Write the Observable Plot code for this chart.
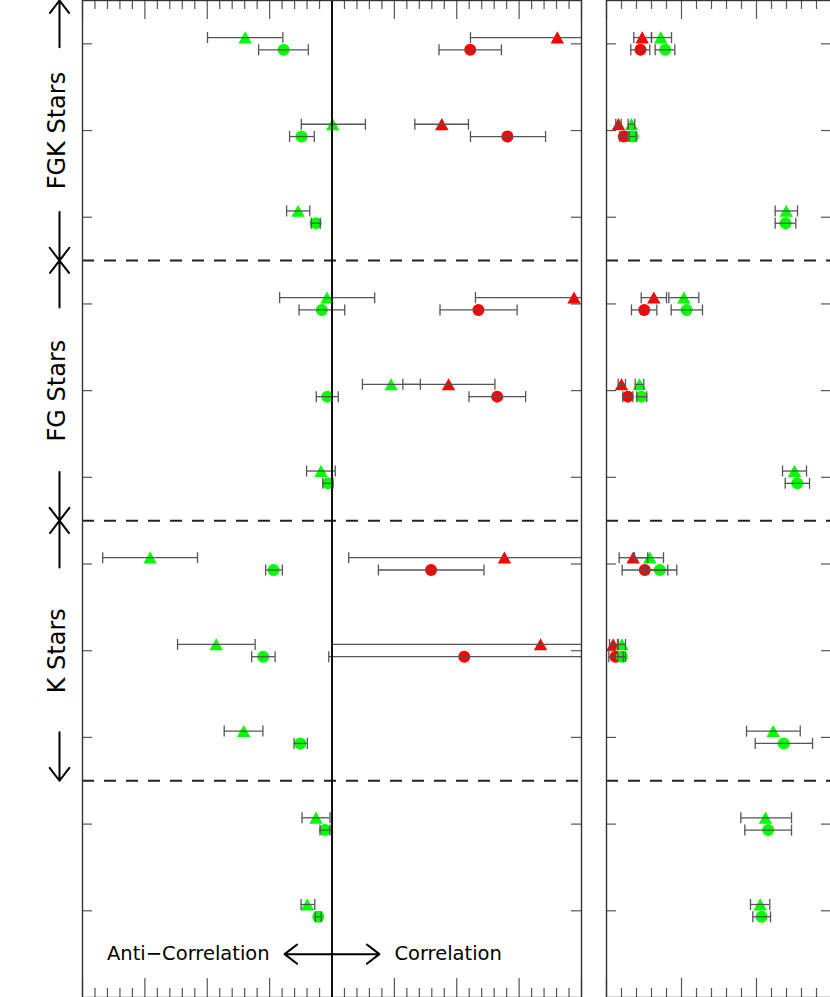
<!DOCTYPE html>
<html><head><meta charset="utf-8">
<script src="https://cdn.jsdelivr.net/npm/d3@7"></script>
<script src="https://cdn.jsdelivr.net/npm/@observablehq/plot@0.6"></script>
<style>
html,body{margin:0;padding:0;background:#fff;}
#wrap{position:relative;width:830px;height:997px;overflow:hidden;background:#fff;}
#left,#right{position:absolute;top:0;}
#left{left:0;width:600px;} #right{left:590px;width:260px;}
#wrap svg{max-width:none !important;display:block;}
svg{font-family:"DejaVu Sans",sans-serif;}
</style></head><body><div id="wrap"><div id="left"></div><div id="right"></div></div>
<script>
// ---------- data ----------
const rows = [0, 1, 2, 3, 4, 5, 6, 7, 8, 9, 10];
const groupLabels = ["FGK Stars", "FG Stars", "K Stars"];
const groupFirstRow = [0, 3, 6];
const groupLastRow = [2, 5, 8];
const bottomLabels = ["Anti\u2212Correlation", "Correlation"];

// each entry: [value, low, high] for a row; null = no point in that row
const leftGreenTriangle = [
  [-0.348, -0.499, -0.197], [0.003, -0.123, 0.134], [-0.136, -0.182, -0.089],
  [-0.020, -0.210, 0.171], [0.237, 0.122, 0.354], [-0.044, -0.102, 0.013],
  [-0.729, -0.919, -0.539], [-0.464, -0.619, -0.308], [-0.354, -0.432, -0.277],
  [-0.064, -0.120, -0.008], [-0.099, -0.124, -0.069]];
const leftGreenCircle = [
  [-0.194, -0.294, -0.095], [-0.122, -0.170, -0.071], [-0.065, -0.083, -0.047],
  [-0.041, -0.132, 0.051], [-0.019, -0.063, 0.025], [-0.016, -0.037, 0.004],
  [-0.234, -0.266, -0.199], [-0.276, -0.322, -0.228], [-0.127, -0.152, -0.099],
  [-0.028, -0.048, -0.008], [-0.055, -0.067, -0.043]];
const leftRedTriangle = [
  [0.903, 0.555, 1.251], [0.440, 0.332, 0.547], null,
  [0.970, 0.575, 1.364], [0.467, 0.284, 0.653], null,
  [0.691, 0.067, 1.316], [0.836, 0.000, 1.672], null, null, null];
const leftRedCircle = [
  [0.554, 0.429, 0.679], [0.703, 0.555, 0.856], null,
  [0.587, 0.433, 0.742], [0.662, 0.549, 0.776], null,
  [0.397, 0.186, 0.609], [0.530, -0.013, 1.070], null, null, null];

const rightRedTriangle = [
  [0.476, 0.364, 0.600], [0.160, 0.124, 0.196], null,
  [0.631, 0.463, 0.800], [0.200, 0.156, 0.253], null,
  [0.356, 0.169, 0.550], [0.089, 0.040, 0.147], null, null, null];
const rightRedCircle = [
  [0.453, 0.324, 0.577], [0.231, 0.177, 0.284], null,
  [0.503, 0.333, 0.671], [0.284, 0.217, 0.351], null,
  [0.511, 0.209, 0.817], [0.120, 0.031, 0.223], null, null, null];
const rightGreenTriangle = [
  [0.724, 0.600, 0.867], [0.333, 0.289, 0.377], [2.396, 2.249, 2.547],
  [1.031, 0.831, 1.231], [0.440, 0.383, 0.497], [2.507, 2.347, 2.667],
  [0.577, 0.373, 0.760], [0.204, 0.156, 0.253], [2.223, 1.867, 2.583],
  [2.120, 1.791, 2.467], [2.049, 1.920, 2.177]];
const rightGreenCircle = [
  [0.783, 0.649, 0.911], [0.351, 0.303, 0.396], [2.387, 2.249, 2.524],
  [1.067, 0.863, 1.280], [0.467, 0.404, 0.537], [2.543, 2.383, 2.707],
  [0.711, 0.507, 0.937], [0.204, 0.151, 0.253], [2.364, 1.983, 2.747],
  [2.156, 1.844, 2.467], [2.067, 1.951, 2.187]];

const leftDomain = [-1, 1];
const rightDomain = [0, 3];

// ---------- helpers ----------
const GREEN = "#00ff00", RED = "#ff0000", BAR = "#555";
const H = 997;

const triSymbol = {draw(ctx, size) {
  const r = Math.sqrt(size / Math.PI);
  ctx.moveTo(0, -r); ctx.lineTo(r * 1.08, r * 0.95); ctx.lineTo(-r * 1.08, r * 0.95); ctx.closePath();
}};
const capSymbol = {draw(ctx, size) {
  const r = Math.sqrt(size / Math.PI);
  ctx.moveTo(0, -r); ctx.lineTo(0, r);
}};

function records(arr, color) {
  return arr.map((d, i) => d && {row: rows[i], v: d[0], lo: d[1], hi: d[2], color}).filter(Boolean);
}

const groups = groupLabels.map((label, i) => ({label, first: groupFirstRow[i], last: groupLastRow[i]}));
const separators = groups.map(g => g.last + 0.5);

function tickMarks(domain, minorStep, majorEvery, fw) {
  const n = Math.round((domain[1] - domain[0]) / minorStep);
  const all = d3.range(n + 1).map(i => +(domain[0] + i * minorStep).toFixed(6));
  const major = all.filter((d, i) => i % majorEvery === 0);
  const minor = all.filter((d, i) => i % majorEvery !== 0);
  const st = {stroke: "#555", strokeWidth: 1.2};
  return [
    Plot.ruleX(minor, {...st, insetBottom: H - 9}),
    Plot.ruleX(minor, {...st, insetTop: H - 9}),
    Plot.ruleX(major, {...st, insetBottom: H - 19}),
    Plot.ruleX(major, {...st, insetTop: H - 19}),
    Plot.ruleY(rows, {...st, insetRight: fw - 10}),
    Plot.ruleY(rows, {...st, insetLeft: fw - 10})
  ];
}

function pointMarks(tri, circ) {
  const dyT = -6.3, dyC = 6;
  const bars = (data, dy) => [
    Plot.ruleY(data, {y: "row", x1: "lo", x2: "hi", dy, stroke: BAR, strokeWidth: 1.3, clip: true}),
    Plot.dot(data, {x: "lo", y: "row", dy, symbol: capSymbol, r: 5.5, stroke: BAR, strokeWidth: 1.3, fill: "none", clip: true}),
    Plot.dot(data, {x: "hi", y: "row", dy, symbol: capSymbol, r: 5.5, stroke: BAR, strokeWidth: 1.3, fill: "none", clip: true})
  ];
  return [
    Plot.dot(tri, {x: "v", y: "row", dy: dyT, symbol: triSymbol, r: 6.2, fill: "color", stroke: "none", clip: true}),
    Plot.dot(circ, {x: "v", y: "row", dy: dyC, symbol: "circle", r: 6, fill: "color", stroke: "none", clip: true}),
    ...bars(tri, dyT),
    ...bars(circ, dyC)
  ];
}

// ---------- left panel ----------
const LW = 600, LML = 82, LMR = 19;
const leftTri = [...records(leftRedTriangle, RED), ...records(leftGreenTriangle, GREEN)];
const leftCirc = [...records(leftRedCircle, RED), ...records(leftGreenCircle, GREEN)];
const groupArrows = groups.flatMap(g => [
  {from: g.first + 0.04, to: g.first - 0.5},
  {from: g.last - 0.06, to: g.last + 0.5}
]);
const labelRow = rows[rows.length - 1] + 0.5;
const bottomArrows = [{from: 0, to: -0.19}, {from: 0, to: 0.19}];

const left = Plot.plot({
  width: LW, height: H,
  marginLeft: LML, marginRight: LMR, marginTop: 0, marginBottom: 0,
  x: {domain: leftDomain, axis: null},
  y: {domain: [-0.5, 11], reverse: true, axis: null},
  style: {background: "transparent", fontFamily: "DejaVu Sans", maxWidth: "none"},
  marks: [
    Plot.ruleY(separators, {stroke: "#222", strokeWidth: 2, strokeDasharray: "12,10"}),
    ...tickMarks(leftDomain, 0.05, 5, LW - LML - LMR),
    ...pointMarks(leftTri, leftCirc),
    Plot.ruleX([0], {stroke: "#111", strokeWidth: 2}),
    Plot.frame({stroke: "#333", strokeWidth: 1.4}),
    Plot.text(groups, {y: d => (d.first + d.last) / 2, frameAnchor: "left", textAnchor: "middle",
      dx: -25, rotate: -90, text: "label", fontSize: 24, fill: "black"}),
    Plot.arrow(groupArrows, {x1: leftDomain[0], x2: leftDomain[0], y1: "from", y2: "to", dx: -23,
      stroke: "black", strokeWidth: 2, headAngle: 75, headLength: 21}),
    Plot.arrow(bottomArrows, {x1: "from", x2: "to", y1: labelRow, y2: labelRow,
      stroke: "black", strokeWidth: 2, headAngle: 75, headLength: 21}),
    Plot.text([bottomLabels[0]], {x: -0.25, y: labelRow, text: d => d, textAnchor: "end", fontSize: 19.5, fill: "black"}),
    Plot.text([bottomLabels[1]], {x: 0.25, y: labelRow, text: d => d, textAnchor: "start", fontSize: 19.5, fill: "black"})
  ]
});
document.getElementById("left").appendChild(left);

// ---------- right panel ----------
const RW = 260, RML = 16, RMR = 19;
const rightTri = [...records(rightRedTriangle, RED), ...records(rightGreenTriangle, GREEN)];
const rightCirc = [...records(rightRedCircle, RED), ...records(rightGreenCircle, GREEN)];
const right = Plot.plot({
  width: RW, height: H,
  marginLeft: RML, marginRight: RMR, marginTop: 0, marginBottom: 0,
  x: {domain: rightDomain, axis: null},
  y: {domain: [-0.5, 11], reverse: true, axis: null},
  style: {background: "transparent", maxWidth: "none"},
  marks: [
    Plot.ruleY(separators, {stroke: "#222", strokeWidth: 2, strokeDasharray: "12,10"}),
    ...tickMarks(rightDomain, 0.2, 5, RW - RML - RMR),
    ...pointMarks(rightTri, rightCirc),
    Plot.frame({stroke: "#333", strokeWidth: 1.4})
  ]
});
document.getElementById("right").appendChild(right);
</script>
</body></html>
